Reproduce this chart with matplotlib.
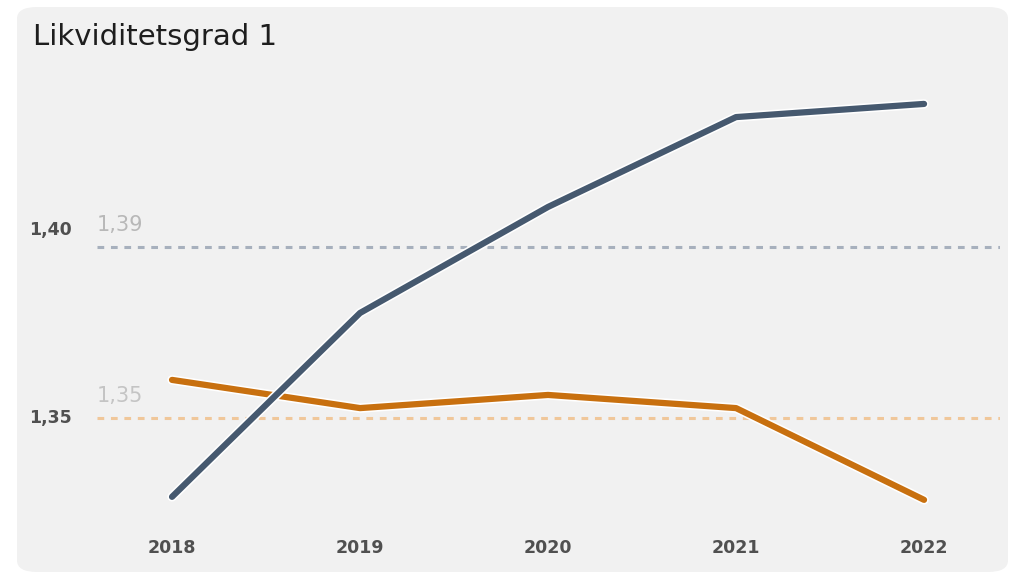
import matplotlib
matplotlib.use('Agg')
import matplotlib.pyplot as plt
import matplotlib.patheffects as pe
from matplotlib.patches import FancyBboxPatch

years = [2018, 2019, 2020, 2021, 2022]
blue_vals = [1.3285, 1.3774, 1.4056, 1.4295, 1.4330]
orange_vals = [1.3596, 1.3521, 1.3556, 1.3521, 1.3277]
blue_avg = 1.3949
orange_avg = 1.3495
blue_avg_label = '1,39'
orange_avg_label = '1,35'
yticks = [1.35, 1.40]
ytick_labels = ['1,35', '1,40']
title = 'Likviditetsgrad 1'

blue = '#46596f'
orange = '#c8700f'

fig = plt.figure(figsize=(10.13, 5.76), dpi=100)
fig.patch.set_facecolor('white')

# rounded grey panel
W, H = 1013, 576
panel = FancyBboxPatch((17 / W, 4 / H), (1008 - 17) / W, (569 - 4) / H,
                       boxstyle='round,pad=0,rounding_size=0.02',
                       transform=fig.transFigure, facecolor='#f1f1f1',
                       edgecolor='none', zorder=0)
fig.patches.append(panel)

ax = fig.add_axes([97 / W, 1 - 520 / H, (1000 - 97) / W, (520 - 60) / H])
ax.set_zorder(2)
ax.set_facecolor('none')
ax.set_xlim(2017.601, 2022.404)
ax.set_ylim(1.32234, 1.44468)

ax.axhline(blue_avg, color='#a7b0bd', lw=2.2, ls=(0, (2.2, 2.2)), zorder=1)
ax.axhline(orange_avg, color='#f0c79a', lw=2.2, ls=(0, (2.2, 2.2)), zorder=1)
ax.text(2017.601, blue_avg + 0.0032, blue_avg_label, color='#b8b8b8',
        fontsize=15, ha='left', va='bottom')
ax.text(2017.601, orange_avg + 0.0032, orange_avg_label, color='#c4c4c4',
        fontsize=15, ha='left', va='bottom')

stroke = [pe.Stroke(linewidth=6.8, foreground='white'), pe.Normal()]
ax.plot(years, orange_vals, color=orange, lw=4.5, solid_capstyle='round',
        path_effects=stroke, zorder=3)
ax.plot(years, blue_vals, color=blue, lw=4.5, solid_capstyle='round',
        path_effects=stroke, zorder=4)

for s in ax.spines.values():
    s.set_visible(False)
ax.set_xticks(years)
ax.set_xticklabels([str(y) for y in years], fontsize=12.5, color='#505050',
                   fontweight='bold')
ax.set_yticks(yticks)
ax.set_yticklabels(ytick_labels, fontsize=12.5, color='#505050', fontweight='bold')
ax.tick_params(axis='x', length=0, pad=14)
ax.tick_params(axis='y', length=0, pad=18)

fig.text(33 / W, 1 - 37 / H, title, fontsize=21, color='#1e1e1e',
         ha='left', va='center')

fig.savefig('out.png', dpi=100)
